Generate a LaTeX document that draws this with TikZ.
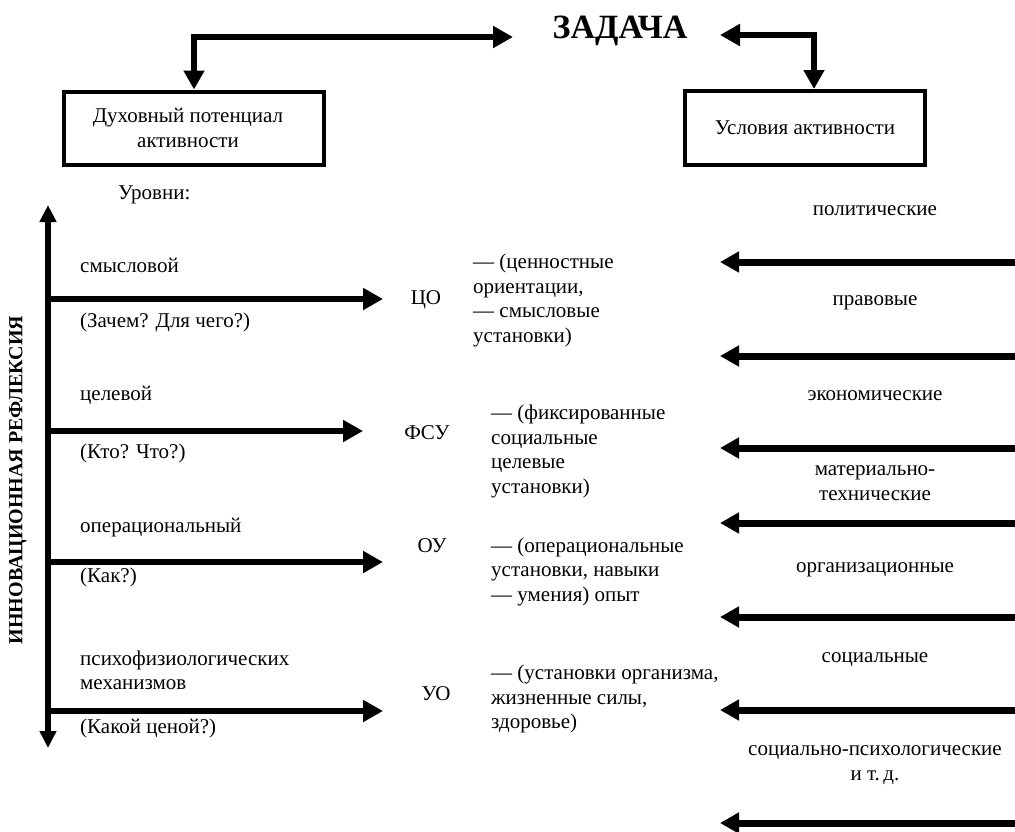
\documentclass[tikz,border=0pt]{standalone}
\usepackage{fontspec}
\setmainfont{Liberation Serif}
\usetikzlibrary{arrows.meta,calc}
\begin{document}
\begin{tikzpicture}[x=1pt,y=-1pt,
  every node/.style={inner sep=0pt, font=\fontsize{21}{24.5}\selectfont},
  lbl/.style={anchor=west, align=left},
  ctr/.style={anchor=center, align=center},
  box/.style={draw, line width=4pt, align=center},
  bothbig/.style={line width=6pt, line join=miter, {Triangle[length=20pt,width=21pt]}-{Triangle[length=19pt,width=20pt]}},
  levelarrow/.style={line width=6pt, -{Triangle[length=20pt,width=21pt]}},
  condarrow/.style={line width=7pt, -{Triangle[length=19pt,width=20pt]}},
  axis/.style={line width=6pt, {Triangle[length=17pt,width=16pt]}-{Triangle[length=17pt,width=16pt]}},
]
\useasboundingbox[fill=white] (0,0) rectangle (1015,831);

% title and boxes
\node[font=\bfseries\fontsize{34}{37}\selectfont] (task) at (620,30.5) {ЗАДАЧА};
\node[box, minimum width=260pt, minimum height=73pt] (spirit) at (194,128) {Духовный потенциал\hspace*{12pt}\\активности\hspace*{12pt}};
\node[box, minimum width=240pt, minimum height=74pt] (cond) at (805,128) {Условия активности};

\coordinate (tl) at (513,37);
\coordinate (tr) at (720,35);
\draw[bothbig] (tl) -| (spirit.north);
\draw[bothbig] (tr) -| ($(cond.north)+(9,0)$);

% left part
\node[lbl] (levels) at (118,195) {Уровни:};
\node[rotate=90, font=\bfseries\fontsize{20}{24}\selectfont] (refl) at (18,480) {ИННОВАЦИОННАЯ РЕФЛЕКСИЯ};

\coordinate (vtop) at (48,205);
\coordinate (vbot) at (48,748);
\draw[axis] (vbot) -- (vtop);

\node[lbl] (l1a) at (80,265) {смысловой};
\node[lbl] (l1b) at (80,322) {(Зачем? Для чего?)};
\node[lbl] (l2a) at (80,395) {целевой};
\node[lbl] (l2b) at (80,453) {(Кто? Что?)};
\node[lbl] (l3a) at (80,528) {операциональный};
\node[lbl] (l3b) at (80,577) {(Как?)};
\node[lbl] (l4a) at (80,670.5) {психофизиологических\\механизмов};
\node[lbl] (l4b) at (80,728) {(Какой ценой?)};

\coordinate (a1) at (383,299);
\coordinate (a2) at (363,431);
\coordinate (a3) at (383,562);
\coordinate (a4) at (383,711);
\foreach \a in {a1,a2,a3,a4}{
  \draw[levelarrow] (vtop |- \a) -- (\a);
}

\node (co) at (426,300) {ЦО};
\node (fsu) at (427,433) {ФСУ};
\node (ou) at (432,546) {ОУ};
\node (uo) at (436,694) {УО};

\node[lbl] (d1) at (473,300.5) {— (ценностные\\ориентации,\\— смысловые\\установки)};
\node[lbl] (d2) at (491,451.5) {— (фиксированные\\социальные\\целевые\\установки)};
\node[lbl] (d3) at (491,571.5) {— (операциональные\\установки, навыки\\— умения) опыт};
\node[lbl] (d4) at (491,699) {— (установки организма,\\жизненные силы,\\здоровье)};

% right part
\node[ctr] (c1) at (875,211) {политические};
\node[ctr] (c2) at (875,303) {правовые};
\node[ctr] (c3) at (875,396) {экономические};
\node[ctr] (c4) at (875,483) {материально-\\технические};
\node[ctr] (c5) at (875,570) {организационные};
\node[ctr] (c6) at (875,660) {социальные};
\node[ctr] (c7) at (875,765) {социально-психологические\\и т.\,д.};

\foreach \y [count=\i] in {262,356,448,523,617,710,823}{
  \coordinate (rs\i) at (1015,\y);
  \coordinate (re\i) at (720,\y);
  \draw[condarrow] (rs\i) -- (re\i);
}
\end{tikzpicture}
\end{document}
